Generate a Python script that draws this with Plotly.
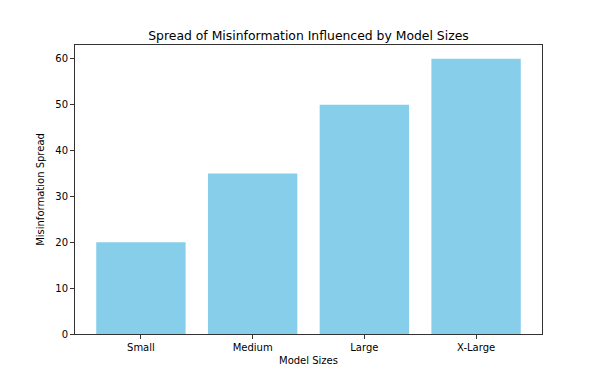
import plotly.graph_objects as go

categories = ["Small", "Medium", "Large", "X-Large"]
values = [20, 35, 50, 60]

fig = go.Figure(go.Bar(x=categories, y=values, marker_color="#87CEEB", marker_line_width=0))

axis_common = dict(
    showline=True, linecolor="#333333", linewidth=1, mirror=True,
    ticks="outside", ticklen=4, tickcolor="#333333", showgrid=False, zeroline=False,
    tickfont=dict(family="DejaVu Sans", size=10, color="black"),
)
# page body has an 8px default margin; compensate in the figure margins
fig.update_layout(
    width=602, height=376,
    margin=dict(l=67, r=68, t=37, b=50),
    paper_bgcolor="white", plot_bgcolor="white",
    bargap=0.2,
    title=dict(text="Spread of Misinformation Influenced by Model Sizes", x=0.5, xref="paper",
               y=1, yref="paper", yanchor="bottom", pad=dict(b=5),
               font=dict(family="DejaVu Sans", size=12.4, color="black")),
    xaxis=dict(axis_common, range=[-0.59, 3.59],
               title=dict(text="Model Sizes", font=dict(family="DejaVu Sans", size=10, color="black"), standoff=4)),
    yaxis=dict(axis_common, range=[0, 63], tickvals=[0, 10, 20, 30, 40, 50, 60],
               title=dict(text="Misinformation Spread", font=dict(family="DejaVu Sans", size=10, color="black"), standoff=8)),
    showlegend=False,
)
fig.write_html("out.html")
